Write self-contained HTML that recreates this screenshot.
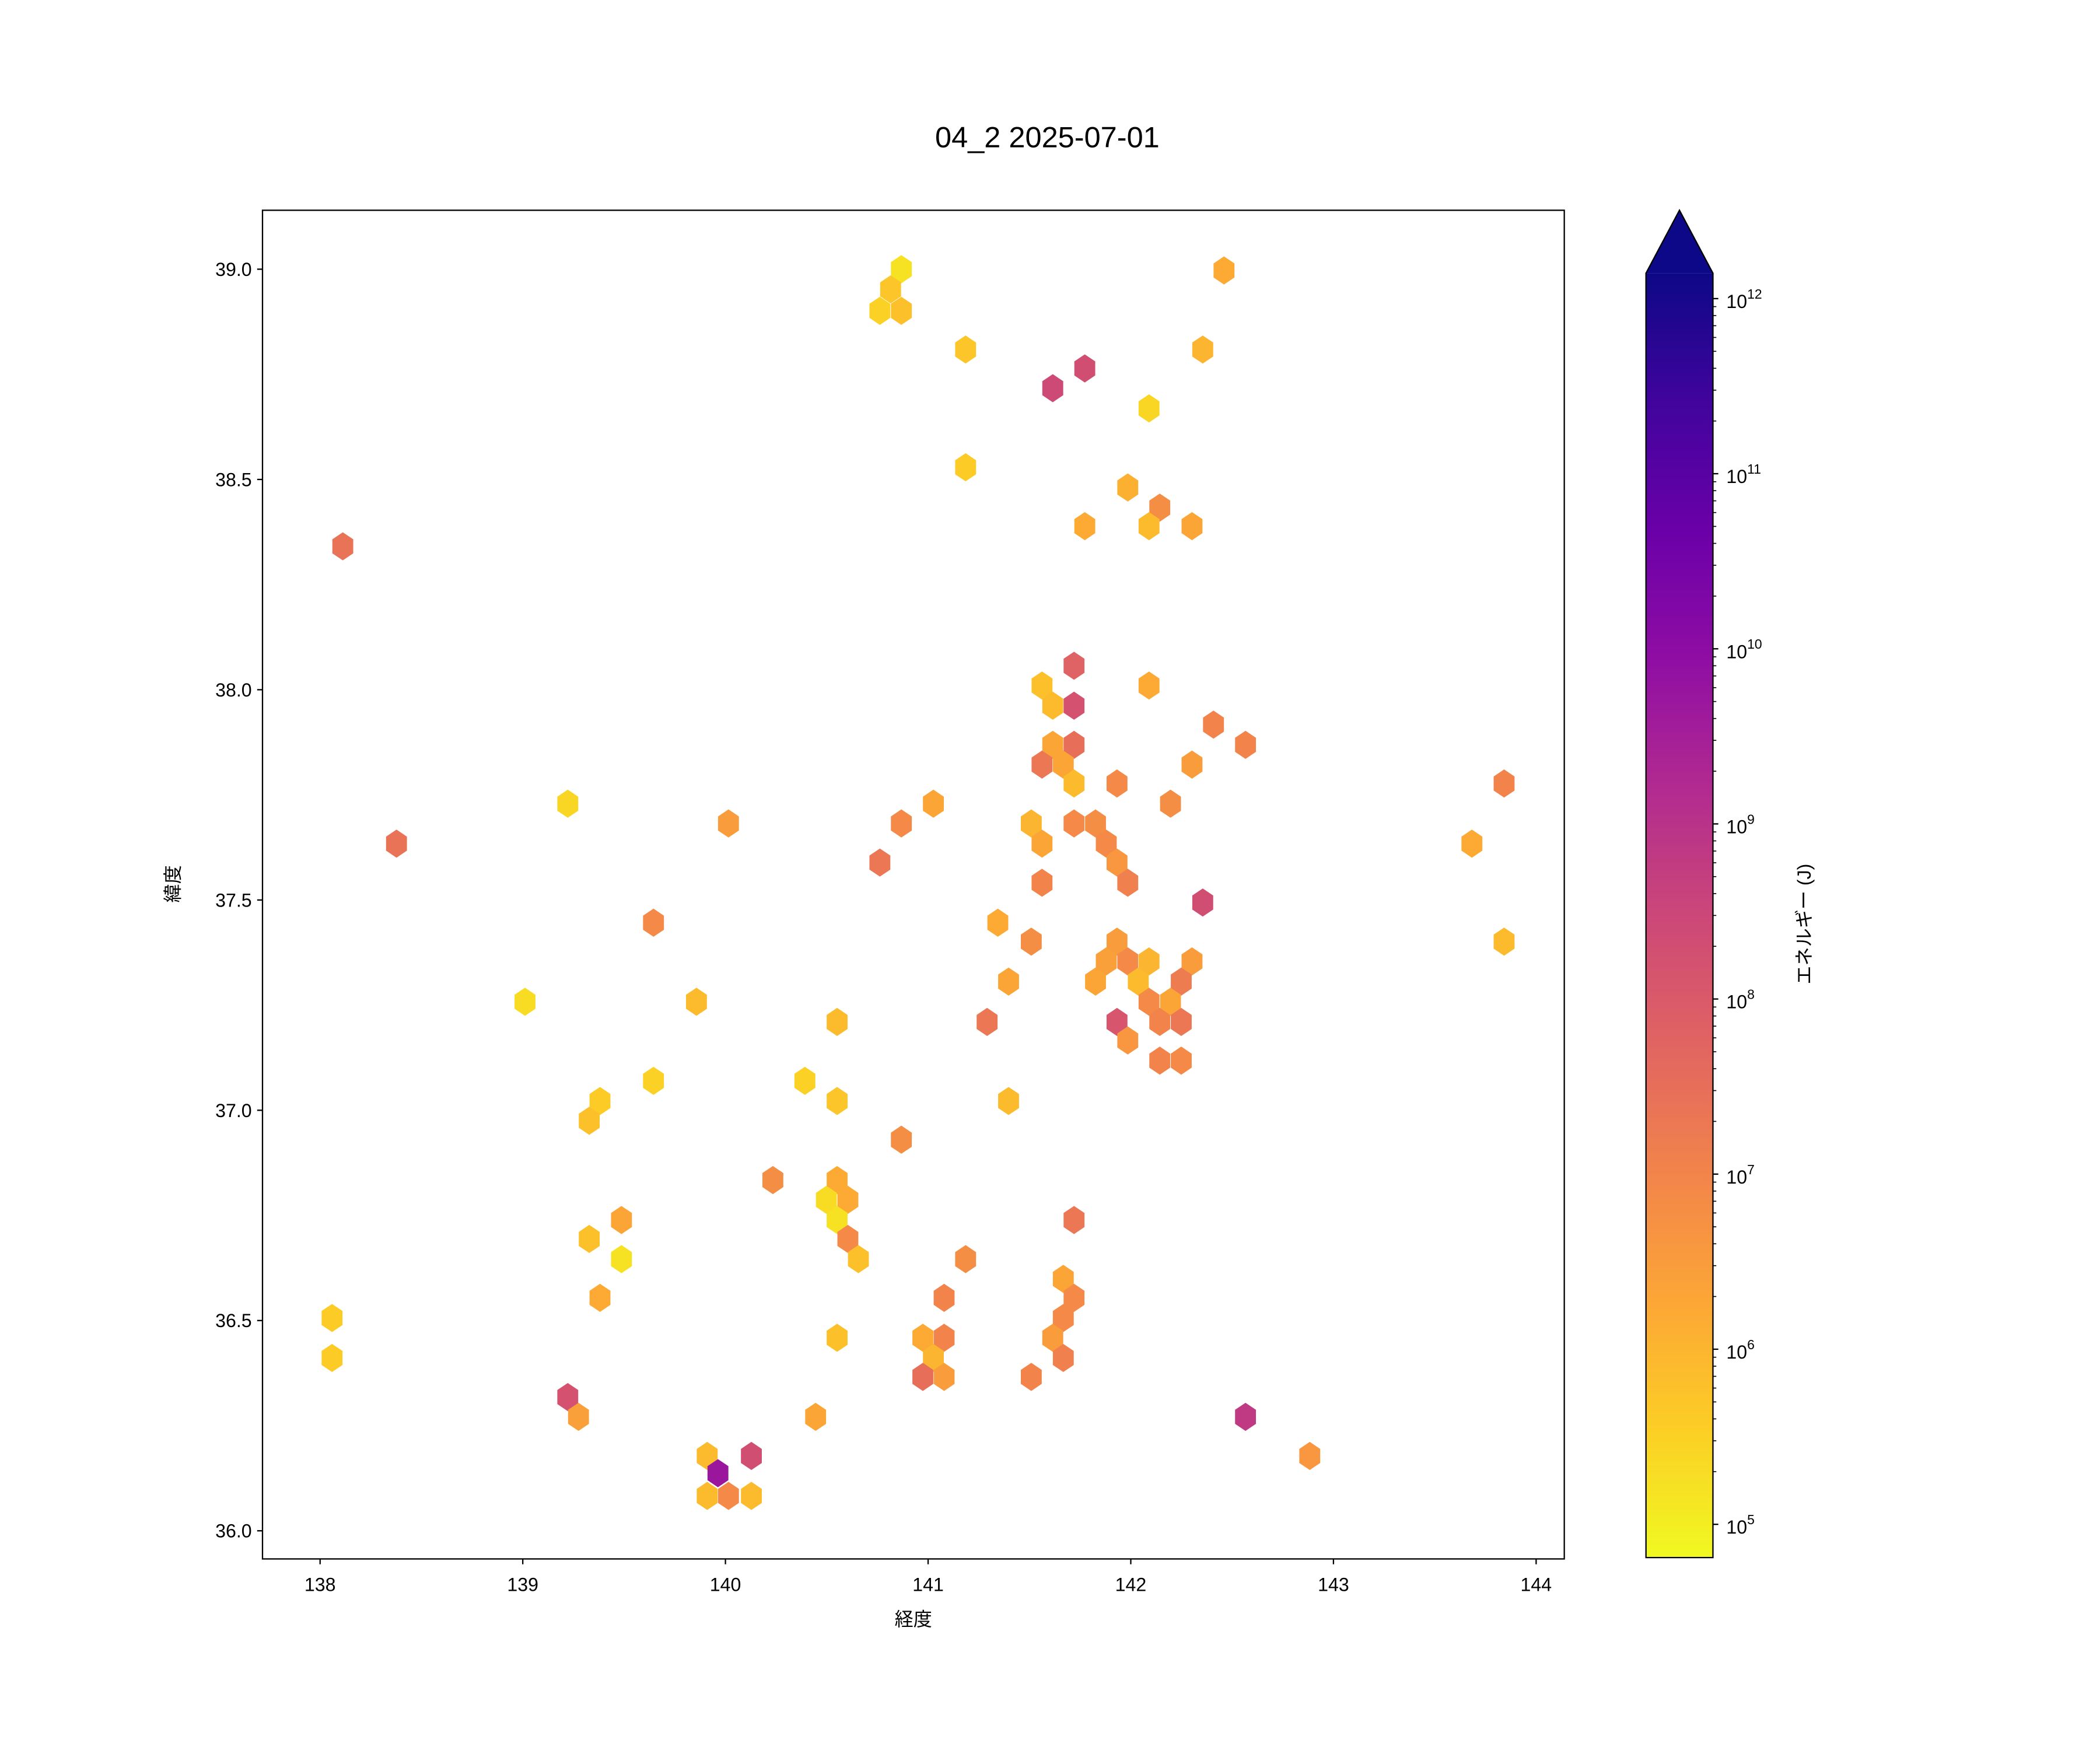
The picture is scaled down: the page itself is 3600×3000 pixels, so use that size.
<!DOCTYPE html>
<html><head><meta charset="utf-8"><style>html,body{margin:0;padding:0;background:#fff}svg{display:block}text{font-family:"Liberation Sans","Noto Sans CJK JP",sans-serif;fill:#000}</style></head>
<body>
<svg id="chart" xmlns="http://www.w3.org/2000/svg" width="3600" height="3000" viewBox="0 0 1568 1306.67">
<defs><linearGradient id="cbg" x1="0" y1="1" x2="0" y2="0">
<stop offset="0" stop-color="#f0f921"/><stop offset="0.1" stop-color="#fcce25"/><stop offset="0.2" stop-color="#fca636"/><stop offset="0.3" stop-color="#f2844b"/><stop offset="0.4" stop-color="#e16462"/><stop offset="0.5" stop-color="#cc4778"/><stop offset="0.6" stop-color="#b12a90"/><stop offset="0.7" stop-color="#8f0da4"/><stop offset="0.8" stop-color="#6a00a8"/><stop offset="0.9" stop-color="#41049d"/><stop offset="1" stop-color="#0d0887"/></linearGradient></defs>
<rect width="1568" height="1306.67" fill="#fff"/>
<text x="782" y="110" font-size="22" text-anchor="middle">04_2 2025-07-01</text>
<g id="hexes"></g>
<rect x="196" y="157" width="972" height="1007" fill="none" stroke="#000" stroke-width="1"/>
<g id="xaxis"></g>
<g id="yaxis"></g>
<text x="682" y="1214" font-size="14" text-anchor="middle">経度</text>
<text transform="translate(134,660) rotate(-90)" font-size="14" text-anchor="middle">緯度</text>
<g>
<rect x="1229" y="204" width="50" height="959" fill="url(#cbg)"/>
<polygon points="1229,204 1254,157 1279,204" fill="#0d0887"/>
<polygon points="1229,1163 1229,204 1254,157 1279,204 1279,1163" fill="none" stroke="#000" stroke-width="1"/>
<g id="cbticks"></g>
<text transform="translate(1352,690) rotate(-90)" font-size="14" text-anchor="middle">エネルギー (J)</text>
</g>
</svg>
<script>
const lons=[140.868,140.815,140.762,140.868,142.460,141.185,142.355,141.773,141.615,142.090,141.185,141.985,142.143,141.773,142.090,142.302,138.112,141.720,141.562,142.090,141.615,141.720,142.408,141.615,141.720,142.566,141.562,141.667,142.302,141.932,141.720,143.842,139.222,141.026,142.196,140.015,140.868,141.509,141.720,141.826,138.377,141.562,141.879,143.683,140.762,141.932,141.562,141.985,142.355,139.645,141.344,141.509,143.842,141.932,141.879,141.985,142.090,142.302,141.826,142.037,142.249,141.397,139.011,139.857,142.090,142.196,140.551,141.291,141.932,142.143,142.249,141.985,142.143,142.249,139.645,140.392,139.381,140.551,141.397,139.328,140.868,140.234,140.551,140.498,140.604,140.551,139.487,141.720,139.328,140.604,139.487,140.656,141.185,141.667,138.059,139.381,141.079,141.720,141.667,140.551,140.974,141.079,141.615,141.026,141.667,138.059,140.974,141.079,141.509,139.222,139.275,140.445,142.566,139.910,140.128,142.883,139.963,139.910,140.015,140.128];
const lats=[39.0,38.952,38.901,38.901,38.997,38.809,38.809,38.764,38.717,38.669,38.529,38.481,38.433,38.389,38.389,38.389,38.341,38.057,38.010,38.010,37.962,37.962,37.917,37.869,37.869,37.869,37.822,37.822,37.822,37.777,37.777,37.777,37.729,37.729,37.729,37.682,37.682,37.682,37.682,37.682,37.634,37.634,37.634,37.634,37.589,37.589,37.541,37.541,37.494,37.446,37.446,37.401,37.401,37.401,37.354,37.354,37.354,37.354,37.306,37.306,37.306,37.306,37.258,37.258,37.258,37.258,37.210,37.210,37.210,37.210,37.210,37.166,37.118,37.118,37.070,37.070,37.022,37.022,37.022,36.975,36.930,36.834,36.834,36.787,36.787,36.739,36.739,36.739,36.694,36.694,36.646,36.646,36.646,36.599,36.506,36.554,36.554,36.554,36.506,36.459,36.459,36.459,36.459,36.411,36.411,36.411,36.366,36.366,36.366,36.318,36.271,36.271,36.271,36.178,36.178,36.178,36.137,36.083,36.083,36.083];
const logEnergy=[5.2,5.7,5.5,5.8,6.2,5.7,6.0,8.3,8.4,5.4,5.6,6.1,6.8,6.2,5.9,6.3,7.4,7.8,5.8,6.2,5.9,8.2,7.0,6.3,7.5,7.0,7.3,6.3,6.5,6.9,5.9,7.0,5.4,6.3,6.8,6.5,6.9,6.0,6.9,6.8,7.4,6.3,6.9,6.2,7.3,6.6,7.0,7.1,8.3,6.9,6.2,6.8,5.9,6.5,6.4,6.9,6.0,6.5,6.3,5.9,7.2,6.3,5.3,5.9,6.9,6.3,5.9,7.3,8.1,7.0,7.3,6.6,7.0,6.9,5.5,5.5,5.6,5.7,5.9,5.8,6.8,6.8,6.2,5.3,6.2,5.2,6.3,7.3,5.8,6.9,5.2,5.8,6.8,6.3,5.6,6.2,7.0,6.9,6.9,5.8,6.2,7.0,6.5,6.0,7.1,5.6,7.5,6.5,7.0,8.2,6.4,6.3,8.8,5.9,8.3,6.6,9.7,5.9,6.9,5.9];
const xTicks=[138,139,140,141,142,143,144];
const yTicks=[36.0,36.5,37.0,37.5,38.0,38.5,39.0];
const cbTicks=[5,6,7,8,9,10,11,12];
const NS="http://www.w3.org/2000/svg";
const xs=v=>239+(v-138)*151.33;
const ys=v=>201+(39-v)*314;
const VMIN=4.81,VMAX=12.145;
const cbY=v=>1163-(v-VMIN)/(VMAX-VMIN)*959;
const stops=["#0d0887","#41049d","#6a00a8","#8f0da4","#b12a90","#cc4778","#e16462","#f2844b","#fca636","#fcce25","#f0f921"].map(h=>[parseInt(h.slice(1,3),16),parseInt(h.slice(3,5),16),parseInt(h.slice(5,7),16)]);
function plasmaRev(v){let t=1-(v-VMIN)/(VMAX-VMIN);t=Math.max(0,Math.min(1,t))*10;const i=Math.min(9,Math.floor(t)),f=t-i;const a=stops[i],b=stops[i+1];return "rgb("+a.map((c,k)=>Math.round(c+(b[k]-c)*f)).join(",")+")";}
function mk(tag,attrs,parent){const e=document.createElementNS(NS,tag);for(const k in attrs)e.setAttribute(k,attrs[k]);parent.appendChild(e);return e;}
const hg=document.getElementById("hexes");
const W=7.8,H=10.5;
for(let i=0;i<lons.length;i++){const cx=xs(lons[i]),cy=ys(lats[i]);
const p=mk("polygon",{points:[[cx,cy-H],[cx+W,cy-H/2],[cx+W,cy+H/2],[cx,cy+H],[cx-W,cy+H/2],[cx-W,cy-H/2]].map(q=>q.join(",")).join(" "),fill:plasmaRev(logEnergy[i])},hg);

}
const xa=document.getElementById("xaxis");
xTicks.forEach(v=>{const x=xs(v);mk("line",{x1:x,x2:x,y1:1164,y2:1168,stroke:"#000"},xa);const t=mk("text",{x:x,y:1188,"font-size":14,"text-anchor":"middle"},xa);t.textContent=v;

});
const ya=document.getElementById("yaxis");
yTicks.forEach(v=>{const y=ys(v);mk("line",{x1:192,x2:196,y1:y,y2:y,stroke:"#000"},ya);const t=mk("text",{x:188,y:y+5,"font-size":14,"text-anchor":"end"},ya);t.textContent=v.toFixed(1);

});
const cb=document.getElementById("cbticks");
cbTicks.forEach(v=>{const y=cbY(v);mk("line",{x1:1279,x2:1283,y1:y,y2:y,stroke:"#000"},cb);const t=mk("text",{x:1289,y:y+7,"font-size":14},cb);


const a=document.createElementNS(NS,"tspan");a.textContent="10";t.appendChild(a);const b=document.createElementNS(NS,"tspan");b.setAttribute("dy","-7");b.setAttribute("font-size","10");b.textContent=v;t.appendChild(b);});
for(let d=5;d<12;d++)for(let m=2;m<10;m++){const y=cbY(d+Math.log10(m));mk("line",{x1:1279,x2:1281.5,y1:y,y2:y,stroke:"#000","stroke-width":0.7},cb);}
</script>
</body></html>
